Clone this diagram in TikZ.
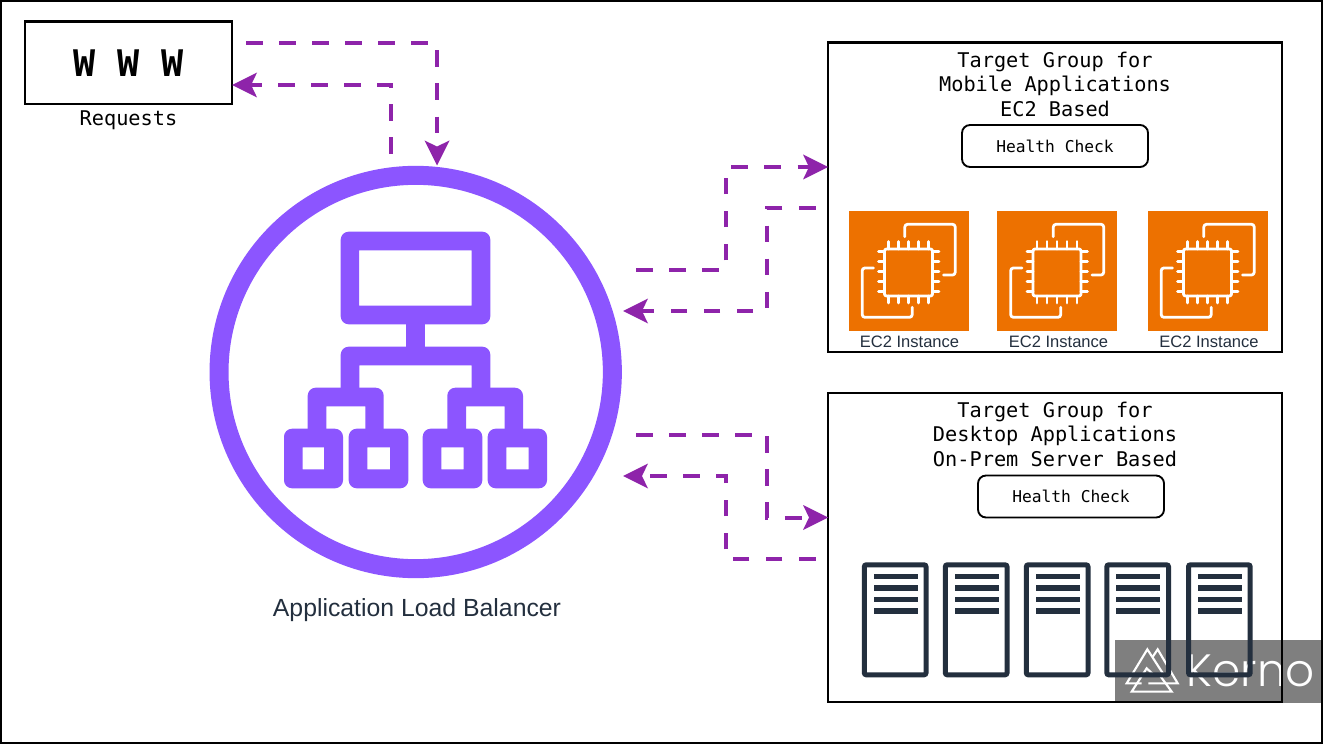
\documentclass[tikz,border=0pt]{standalone}
\usepackage{fontspec}
\setmainfont{Liberation Sans}
\newfontfamily\monof{DejaVu Sans Mono}
\newfontfamily\kernof{Poppins Light}
\usetikzlibrary{arrows.meta}
\definecolor{alb}{HTML}{8C55FF}
\definecolor{flow}{HTML}{8E24AA}
\definecolor{ecorange}{HTML}{ED7100}
\definecolor{awsdark}{HTML}{232F3E}
\tikzset{
  x=0.75pt,y=-0.75pt,
  frame/.style={draw=black,line width=1.6pt,outer sep=0pt},
  flowline/.style={draw=flow,line width=3pt,dash pattern=on 12.4pt off 12.4pt,
    -{Stealth[length=18.75pt,width=18.75pt,inset=4.5pt,fill=flow,line width=0pt]}},
  health/.style={draw=black,line width=1.4pt,outer sep=0pt,rounded corners=6pt,font=\monof\fontsize{12.2}{14}\selectfont},
  title/.style={font=\monof\fontsize{15.2}{18.4}\selectfont,align=center,inner sep=0pt},
  eclabel/.style={font=\fontsize{12.4}{14}\selectfont,text=awsdark,inner sep=0pt},
  ecline/.style={draw=white,line width=2.1pt,line cap=round,line join=round},
  albfill/.style={fill=alb,even odd rule},
  rack/.style={draw=awsdark,line width=3.75pt,rounded corners=1.5pt},
  rackbar/.style={fill=awsdark},
  logo/.style={draw=white,line width=1.6pt,line join=miter},
}
\newcommand{\albbox}[8]{%
  \fill[albfill] [rounded corners=6pt] (#1,#3) rectangle (#2,#4)
    [sharp corners] (#5,#7) rectangle (#6,#8);}
\newcommand{\albbracket}[7]{%
  \fill[alb] (#1,#4) [rounded corners=6pt] -- (#1,#3) -- (#2,#3) [sharp corners] -- (#2,#4) -- (#6,#4) -- (#6,#7) -- (#5,#7) -- (#5,#4) -- cycle;}
\newcommand{\ecicon}[3]{%
  \node[fill=ecorange,minimum width=90pt,minimum height=90pt,inner sep=0pt,outer sep=0pt,anchor=north west] (#1) at (#2,211) {};
  \begin{scope}[shift={(#2,211)}]
    \draw[ecline,rounded corners=1.5pt] (36,38) rectangle (84,85);
    \foreach \p in {40,50,60,70,80} {
      \draw[ecline] (\p,30.5) -- (\p,38);
      \draw[ecline] (\p,85) -- (\p,92);
    }
    \foreach \p in {40.5,50.5,60.5,70.5,80.5} {
      \draw[ecline] (30,\p) -- (36,\p);
      \draw[ecline] (84,\p) -- (90.5,\p);
    }
    \draw[ecline,rounded corners=2pt] (56.3,25.7) -- (56.3,13.3) -- (106.7,13.3) -- (106.7,64) -- (95,64);
    \draw[ecline,rounded corners=2pt] (25,57) -- (13.7,57) -- (13.7,106.3) -- (63.7,106.3) -- (63.7,96.3);
  \end{scope}
  \node[eclabel] at (#3,342) {EC2 Instance};
}
\newcommand{\server}[1]{%
  \draw[rack] (#1,564.8) rectangle ++(61.7,110);
  \foreach \b in {573.7,585,596.7,608} {
    \fill[rackbar] (#1+9.2,\b) rectangle ++(44,5.6);
  }
}
\begin{document}
\begin{tikzpicture}
\useasboundingbox (0,0) rectangle (1323,745);
\fill[white] (0,0) rectangle (1323,745);
\node[draw=black,line width=1.5pt,outer sep=0pt,minimum width=990.5pt,minimum height=556.3pt,inner sep=0pt,anchor=north west] (page) at (1,1) {};

% watermark
\fill[black,opacity=0.5] (1114.5,639.5) rectangle (1321.5,702.5);
\begin{scope}[shift={(1115,640)},x=0.25pt,y=-0.25pt]
  \draw[logo] (80,130) -- (35,130) -- (97,28) -- (150,110);
  \draw[logo] (112,52) -- (128,28) -- (188,130) -- (100,130);
  \draw[logo] (120,108) -- (95,85) -- (50,155) -- (170,155) -- (130,100);
\end{scope}
\node[font=\kernof\fontsize{34}{36}\selectfont,text=white,inner sep=0pt,anchor=base west] (brand) at (1186.5,686.5) {Kerno};

% requests
\node[frame,minimum width=155.3pt,minimum height=62.2pt,inner sep=0pt,anchor=north west] (www) at (25,21.5) {};
\node[font=\monof\bfseries\fontsize{27.5}{30}\selectfont,inner sep=0pt] (wwwtext) at (128.5,63.5) {W W W};
\node[font=\monof\fontsize{15.2}{18}\selectfont,inner sep=0pt] (requests) at (128.5,120) {Requests};

% load balancer
\node[circle,draw=alb,line width=14.25pt,minimum size=295pt,inner sep=0pt,outer sep=0pt] (lb) at (415.7,372) {};
\albbox{340.7}{490.3}{231.7}{324.3}{359}{471.7}{250.3}{305.7}
\fill[alb] (406.3,323) rectangle (425,348);
\albbracket{340.7}{490.3}{346.7}{389}{359.3}{471.7}{365.3}
\albbracket{307.7}{383.7}{387.7}{430}{326.3}{365.3}{406.3}
\albbracket{447.3}{523}{387.7}{430}{466}{504.7}{406.3}
\albbox{284}{343}{428.7}{488.3}{302.7}{324}{447.3}{469.3}
\albbox{348.7}{408.3}{428.7}{488.3}{367.3}{390}{447.3}{469.3}
\albbox{422.7}{482.3}{428.7}{488.3}{441.3}{463.7}{447.3}{469.3}
\albbox{487.7}{547}{428.7}{488.3}{506.3}{528.7}{447.3}{469.3}
\node[font=\fontsize{18.6}{22}\selectfont,text=awsdark,inner sep=0pt] (lblabel) at (417,610.5) {Application Load Balancer};

% target groups
\node[frame,minimum width=340.5pt,minimum height=232pt,inner sep=0pt,anchor=north west] (tg1) at (828,42.5) {};
\node[frame,minimum width=340.5pt,minimum height=232pt,inner sep=0pt,anchor=north west] (tg2) at (828,393) {};
\node[title] (tg1title) at (1055,84) {Target Group for\\Mobile Applications\\EC2 Based};
\node[title] (tg2title) at (1055,434) {Target Group for\\Desktop Applications\\On-Prem Server Based};
\node[health,minimum width=139.5pt,minimum height=31.5pt,inner sep=0pt,anchor=north west] (hc1) at (962,125) {Health Check};
\node[health,minimum width=139.5pt,minimum height=31.5pt,inner sep=0pt,anchor=north west] (hc2) at (978,475.5) {Health Check};

\ecicon{ec1}{848.5}{909.5}
\ecicon{ec2}{997}{1058.5}
\ecicon{ec3}{1147.5}{1209}

\server{864.3}
\server{945.3}
\server{1026.3}
\server{1106.8}
\server{1188.5}

% connector ends
\coordinate (a1) at (246,43);
\coordinate (a2) at (437,43);
\coordinate (a3) at (437,165.5);
\coordinate (b1) at (391,154);
\coordinate (b2) at (391,85);
\coordinate (c1) at (636,270);
\coordinate (c2) at (725.5,270);
\coordinate (c3) at (725.5,167);
\coordinate (d1) at (815.5,208);
\coordinate (d2) at (767,208);
\coordinate (d3) at (767,311);
\coordinate (d4) at (623,311);
\coordinate (e1) at (636,435);
\coordinate (e2) at (767,435);
\coordinate (e3) at (767,517.5);
\coordinate (f1) at (815.5,558.5);
\coordinate (f2) at (725.5,558.5);
\coordinate (f3) at (725.5,476);
\coordinate (f4) at (623,476);

\draw[flowline] (a1) -- (a2) -- (a3);
\draw[flowline] (b1) -- (b2) -- (www.east |- b2);
\draw[flowline] (c1) -- (c2) -- (c3) -- (tg1.west |- c3);
\draw[flowline] (d1) -- (d2) -- (d3) -- (d4);
\draw[flowline] (e1) -- (e2) -- (e3) -- (tg2.west |- e3);
\draw[flowline] (f1) -- (f2) -- (f3) -- (f4);
\end{tikzpicture}
\end{document}
